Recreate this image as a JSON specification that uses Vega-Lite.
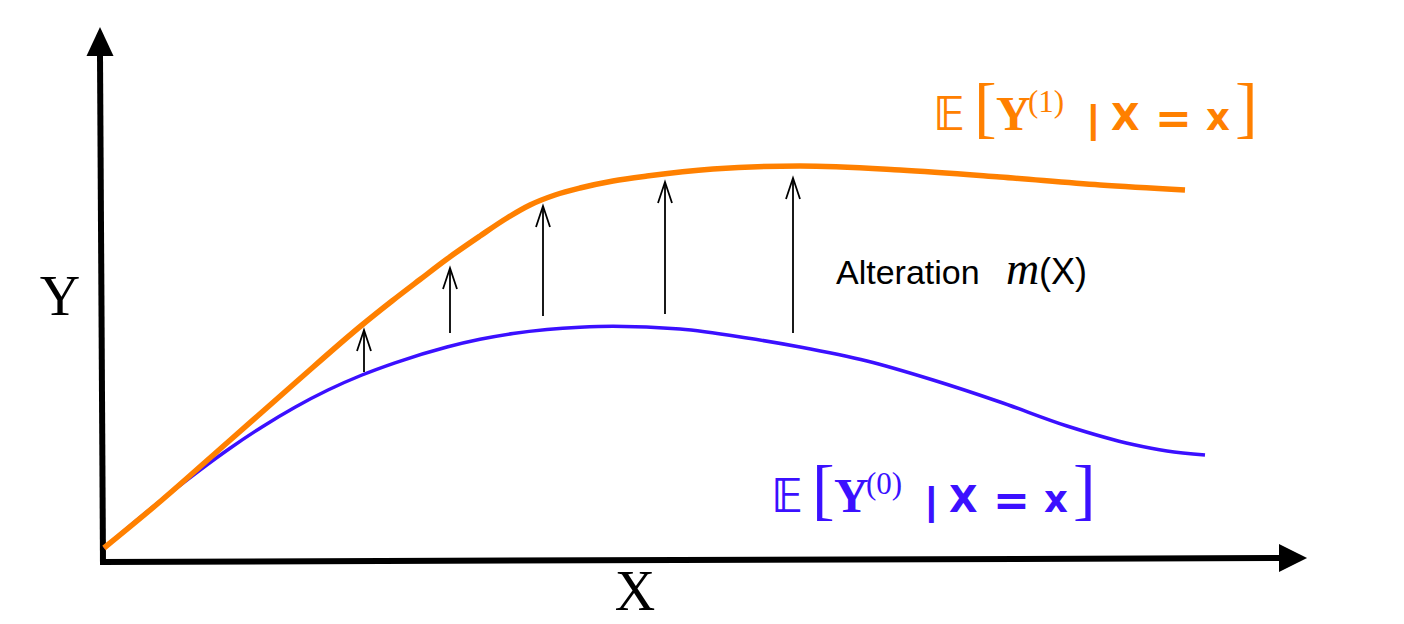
{
  "$schema": "https://vega.github.io/schema/vega-lite/v6.json",
  "width": 1404,
  "height": 624,
  "autosize": {"type": "fit", "contains": "padding"},
  "padding": 0,
  "background": "white",
  "config": {"view": {"stroke": null}},
  "datasets": {
    "axes": [
      {"x": 103, "y": 59, "x2": 100, "y2": 568},
      {"x": 100, "y": 62, "x2": 1281, "y2": 66}
    ],
    "heads": [
      {"dir": "up", "x": 100, "y": 568},
      {"dir": "right", "x": 1279, "y": 66}
    ],
    "curves": [
      {"series": "Y0", "x": 104, "y": 76}, {"series": "Y0", "x": 140, "y": 106.4}, {"series": "Y0", "x": 170, "y": 130.8},
      {"series": "Y0", "x": 200, "y": 154}, {"series": "Y0", "x": 230, "y": 175.8}, {"series": "Y0", "x": 262, "y": 197.1},
      {"series": "Y0", "x": 295, "y": 216.8}, {"series": "Y0", "x": 328, "y": 234}, {"series": "Y0", "x": 362, "y": 249},
      {"series": "Y0", "x": 395, "y": 261.2}, {"series": "Y0", "x": 447, "y": 277}, {"series": "Y0", "x": 480, "y": 284.7},
      {"series": "Y0", "x": 513, "y": 290.5}, {"series": "Y0", "x": 547, "y": 294.5}, {"series": "Y0", "x": 580, "y": 296.8},
      {"series": "Y0", "x": 613, "y": 297.8}, {"series": "Y0", "x": 680, "y": 295}, {"series": "Y0", "x": 747, "y": 286},
      {"series": "Y0", "x": 800, "y": 277}, {"series": "Y0", "x": 867, "y": 263}, {"series": "Y0", "x": 933, "y": 244},
      {"series": "Y0", "x": 1000, "y": 222}, {"series": "Y0", "x": 1067, "y": 198}, {"series": "Y0", "x": 1133, "y": 179.5},
      {"series": "Y0", "x": 1167, "y": 173}, {"series": "Y0", "x": 1205, "y": 169},
      {"series": "Y1", "x": 104, "y": 76}, {"series": "Y1", "x": 162, "y": 124}, {"series": "Y1", "x": 228, "y": 182},
      {"series": "Y1", "x": 295, "y": 241}, {"series": "Y1", "x": 362, "y": 299}, {"series": "Y1", "x": 392, "y": 323},
      {"series": "Y1", "x": 420, "y": 344.5}, {"series": "Y1", "x": 447, "y": 365}, {"series": "Y1", "x": 480, "y": 388},
      {"series": "Y1", "x": 507, "y": 406}, {"series": "Y1", "x": 530, "y": 419}, {"series": "Y1", "x": 555, "y": 429},
      {"series": "Y1", "x": 580, "y": 436}, {"series": "Y1", "x": 613, "y": 443}, {"series": "Y1", "x": 647, "y": 448},
      {"series": "Y1", "x": 713, "y": 455}, {"series": "Y1", "x": 800, "y": 458}, {"series": "Y1", "x": 900, "y": 454},
      {"series": "Y1", "x": 1000, "y": 447}, {"series": "Y1", "x": 1100, "y": 439}, {"series": "Y1", "x": 1185, "y": 434}
    ],
    "arrows": [
      {"x": 364, "y": 294, "y2": 252},
      {"x": 450, "y": 356, "y2": 291},
      {"x": 543, "y": 418, "y2": 308},
      {"x": 665, "y": 442, "y2": 310},
      {"x": 793, "y": 446, "y2": 291}
    ],
    "labels": [
      {"role": "axis", "series": "note", "text": "Y", "x": 60, "y": 309},
      {"role": "axis", "series": "note", "text": "X", "x": 635, "y": 14},
      {"role": "note", "series": "note", "text": "Alteration", "x": 836, "y": 340},
      {"role": "paren", "series": "note", "text": "(X)", "x": 1039, "y": 340},
      {"role": "ital", "series": "note", "text": "m", "x": 1006, "y": 340},
      {"role": "E", "series": "Y0", "text": "𝔼", "x": 772, "y": 112},
      {"role": "br", "series": "Y0", "text": "[", "x": 812, "y": 112},
      {"role": "Y", "series": "Y0", "text": "Y", "x": 834, "y": 112},
      {"role": "sup", "series": "Y0", "text": "(0)", "x": 866, "y": 130},
      {"role": "bar", "series": "Y0", "text": "|", "x": 926, "y": 110},
      {"role": "sans", "series": "Y0", "text": "X", "x": 949, "y": 112},
      {"role": "eq", "series": "Y0", "text": "=", "x": 993, "y": 109},
      {"role": "sans", "series": "Y0", "text": "x", "x": 1044, "y": 112},
      {"role": "br", "series": "Y0", "text": "]", "x": 1073, "y": 112},
      {"role": "E", "series": "Y1", "text": "𝔼", "x": 934, "y": 494},
      {"role": "br", "series": "Y1", "text": "[", "x": 974, "y": 494},
      {"role": "Y", "series": "Y1", "text": "Y", "x": 996, "y": 494},
      {"role": "sup", "series": "Y1", "text": "(1)", "x": 1028, "y": 512},
      {"role": "bar", "series": "Y1", "text": "|", "x": 1088, "y": 492},
      {"role": "sans", "series": "Y1", "text": "X", "x": 1111, "y": 494},
      {"role": "eq", "series": "Y1", "text": "=", "x": 1155, "y": 491},
      {"role": "sans", "series": "Y1", "text": "x", "x": 1206, "y": 494},
      {"role": "br", "series": "Y1", "text": "]", "x": 1235, "y": 494}
    ]
  },
  "encoding": {
    "x": {"field": "x", "type": "quantitative", "scale": {"domain": [0, 1404], "nice": false, "zero": false}, "axis": null},
    "y": {"field": "y", "type": "quantitative", "scale": {"domain": [0, 624], "nice": false, "zero": false}, "axis": null}
  },
  "layer": [
    {
      "data": {"name": "axes"},
      "mark": {"type": "rule", "color": "black", "strokeWidth": 6, "strokeCap": "butt"},
      "encoding": {"x2": {"field": "x2"}, "y2": {"field": "y2"}}
    },
    {
      "data": {"name": "heads"},
      "transform": [{"filter": "datum.dir === 'up'"}],
      "mark": {"type": "point", "filled": true, "fill": "black", "strokeWidth": 0, "opacity": 1, "size": 900, "shape": "M0,-1.93L-0.9,0L0.9,0Z"}
    },
    {
      "data": {"name": "heads"},
      "transform": [{"filter": "datum.dir === 'right'"}],
      "mark": {"type": "point", "filled": true, "fill": "black", "strokeWidth": 0, "opacity": 1, "size": 900, "shape": "M1.87,0L0,-0.93L0,0.93Z"}
    },
    {
      "data": {"name": "curves"},
      "transform": [{"filter": "datum.series === 'Y0'"}],
      "mark": {"type": "line", "interpolate": "monotone", "strokeWidth": 3.5, "strokeCap": "butt"},
      "encoding": {"color": {"field": "series", "type": "nominal", "scale": {"domain": ["Y0", "Y1", "note"], "range": ["#3b10ff", "#ff8000", "#000000"]}, "legend": null}}
    },
    {
      "data": {"name": "curves"},
      "transform": [{"filter": "datum.series === 'Y1'"}],
      "mark": {"type": "line", "interpolate": "monotone", "strokeWidth": 5.5, "strokeCap": "butt"},
      "encoding": {"color": {"field": "series", "type": "nominal", "legend": null}}
    },
    {
      "data": {"name": "arrows"},
      "mark": {"type": "rule", "color": "black", "strokeWidth": 1.8},
      "encoding": {"y2": {"field": "y2"}}
    },
    {
      "data": {"name": "arrows"},
      "mark": {"type": "point", "filled": false, "stroke": "black", "strokeWidth": 1.8, "opacity": 1, "size": 441, "shape": "M-0.667,2L0,0L0.667,2", "strokeJoin": "miter"}
    },
    {
      "data": {"name": "labels"},
      "transform": [{"filter": "datum.role === 'axis'"}],
      "mark": {"type": "text", "font": "Liberation Serif", "fontSize": 56, "align": "center", "baseline": "alphabetic", "color": "black"},
      "encoding": {"text": {"field": "text"}}
    },
    {
      "data": {"name": "labels"},
      "transform": [{"filter": "datum.role === 'note'"}],
      "mark": {"type": "text", "font": "Liberation Sans", "fontSize": 34, "align": "left", "baseline": "alphabetic", "color": "black"},
      "encoding": {"text": {"field": "text"}}
    },
    {
      "data": {"name": "labels"},
      "transform": [{"filter": "datum.role === 'paren'"}],
      "mark": {"type": "text", "font": "Liberation Sans", "fontSize": 36, "align": "left", "baseline": "alphabetic", "color": "black"},
      "encoding": {"text": {"field": "text"}}
    },
    {
      "data": {"name": "labels"},
      "transform": [{"filter": "datum.role === 'ital'"}],
      "mark": {"type": "text", "font": "Liberation Serif", "fontStyle": "italic", "fontSize": 46, "align": "left", "baseline": "alphabetic", "color": "black"},
      "encoding": {"text": {"field": "text"}}
    },
    {
      "data": {"name": "labels"},
      "transform": [{"filter": "datum.role === 'E'"}],
      "mark": {"type": "text", "font": "DejaVu Sans", "fontWeight": "bold", "fontSize": 46, "align": "left", "baseline": "alphabetic"},
      "encoding": {"text": {"field": "text"}, "color": {"field": "series", "type": "nominal", "legend": null}}
    },
    {
      "data": {"name": "labels"},
      "transform": [{"filter": "datum.role === 'br'"}],
      "mark": {"type": "text", "font": "Liberation Serif", "fontSize": 68, "align": "left", "baseline": "alphabetic"},
      "encoding": {"text": {"field": "text"}, "color": {"field": "series", "type": "nominal", "legend": null}}
    },
    {
      "data": {"name": "labels"},
      "transform": [{"filter": "datum.role === 'Y'"}],
      "mark": {"type": "text", "font": "Liberation Serif", "fontWeight": "bold", "fontSize": 48, "align": "left", "baseline": "alphabetic"},
      "encoding": {"text": {"field": "text"}, "color": {"field": "series", "type": "nominal", "legend": null}}
    },
    {
      "data": {"name": "labels"},
      "transform": [{"filter": "datum.role === 'sup'"}],
      "mark": {"type": "text", "font": "Liberation Serif", "fontSize": 31, "align": "left", "baseline": "alphabetic"},
      "encoding": {"text": {"field": "text"}, "color": {"field": "series", "type": "nominal", "legend": null}}
    },
    {
      "data": {"name": "labels"},
      "transform": [{"filter": "datum.role === 'bar'"}],
      "mark": {"type": "text", "font": "Liberation Sans", "fontWeight": "bold", "fontSize": 38, "align": "left", "baseline": "alphabetic"},
      "encoding": {"text": {"field": "text"}, "color": {"field": "series", "type": "nominal", "legend": null}}
    },
    {
      "data": {"name": "labels"},
      "transform": [{"filter": "datum.role === 'sans'"}],
      "mark": {"type": "text", "font": "DejaVu Sans", "fontWeight": "bold", "fontSize": 37, "align": "left", "baseline": "alphabetic"},
      "encoding": {"text": {"field": "text"}, "color": {"field": "series", "type": "nominal", "legend": null}}
    },
    {
      "data": {"name": "labels"},
      "transform": [{"filter": "datum.role === 'eq'"}],
      "mark": {"type": "text", "font": "DejaVu Sans", "fontWeight": "bold", "fontSize": 44, "align": "left", "baseline": "alphabetic"},
      "encoding": {"text": {"field": "text"}, "color": {"field": "series", "type": "nominal", "legend": null}}
    }
  ]
}
